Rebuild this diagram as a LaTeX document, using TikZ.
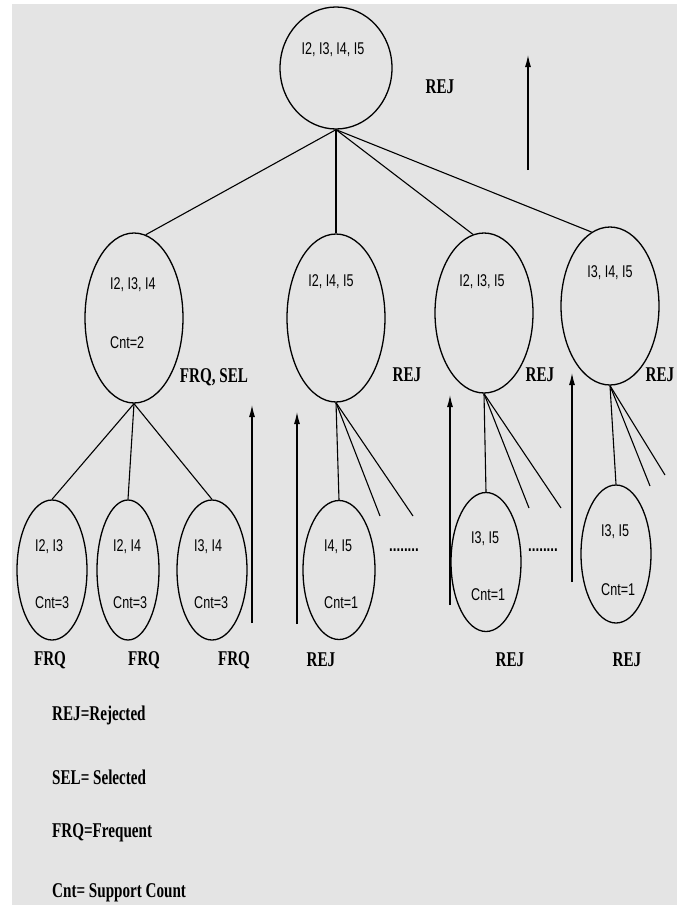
\documentclass[tikz,border=0pt]{standalone}
\usepackage{fontspec}
\usetikzlibrary{shapes.geometric,arrows.meta}
\newfontfamily\itemsfont{Liberation Sans}[FakeStretch=0.74]
\newfontfamily\marksfont{Liberation Serif}[FakeStretch=0.72]
\definecolor{sheet}{RGB}{228,228,228}
\tikzset{
  itemset/.style={draw, ellipse, line width=1.3pt, inner sep=0pt},
  itemtext/.style={font=\itemsfont\fontsize{17}{19}\selectfont, inner sep=0pt},
  marktext/.style={font=\marksfont\bfseries\fontsize{21}{23}\selectfont, inner sep=0pt},
  link/.style={line width=1.1pt},
  upflow/.style={line width=1.1pt, -{Latex[length=12pt,width=6pt]}}
}

\begin{document}
\begin{tikzpicture}[x=1pt,y=-1pt]
			%%%%% START %%%%%
			\useasboundingbox (0,0) rectangle (685,905);
			\fill[sheet] (12,4) rectangle (677,905);
			
			% candidate sets
			\node[itemset, minimum width=112pt, minimum height=122pt] (top) at (336,68) {};
			
			\node[itemset, minimum width=98pt, minimum height=170pt] (n1) at (134,318) {};
			\node[itemset, minimum width=98pt, minimum height=168pt] (n2) at (336,318) {};
			\node[itemset, minimum width=98pt, minimum height=160pt] (n3) at (484,313) {};
			\node[itemset, minimum width=98pt, minimum height=158pt] (n4) at (610,306) {};
			
			\node[itemset, minimum width=70pt, minimum height=140pt] (a) at (52,570) {};
			\node[itemset, minimum width=62pt, minimum height=140pt] (b) at (128,570) {};
			\node[itemset, minimum width=70pt, minimum height=140pt] (c) at (212,570) {};
			\node[itemset, minimum width=72pt, minimum height=139pt] (d) at (339,570) {};
			\node[itemset, minimum width=70pt, minimum height=139pt] (e) at (486,562) {};
			\node[itemset, minimum width=70pt, minimum height=138pt] (f) at (616,554) {};
			
			% items and counts
			\node[itemtext] (tTop) at (333,50) {I2, I3, I4, I5};
			\node[itemtext, anchor=west] (t1) at (110,285) {I2, I3, I4};
			\node[itemtext, anchor=west] (c1) at (110,343) {Cnt=2};
			\node[itemtext] (t2) at (331,282) {I2, I4, I5};
			\node[itemtext] (t3) at (482,282) {I2, I3, I5};
			\node[itemtext] (t4) at (610,273) {I3, I4, I5};
			
			\node[itemtext, anchor=west] (ta) at (35,547) {I2, I3};
			\node[itemtext, anchor=west] (ca) at (35,603) {Cnt=3};
			\node[itemtext, anchor=west] (tb) at (113,547) {I2, I4};
			\node[itemtext, anchor=west] (cb) at (113,603) {Cnt=3};
			\node[itemtext, anchor=west] (tc) at (194,547) {I3, I4};
			\node[itemtext, anchor=west] (cc) at (194,603) {Cnt=3};
			\node[itemtext, anchor=west] (td) at (324,547) {I4, I5};
			\node[itemtext, anchor=west] (cd) at (324,603) {Cnt=1};
			\node[itemtext, anchor=west] (te) at (471,539) {I3, I5};
			\node[itemtext, anchor=west] (ce) at (471,595) {Cnt=1};
			\node[itemtext, anchor=west] (tf) at (601,532) {I3, I5};
			\node[itemtext, anchor=west] (cf) at (601,590) {Cnt=1};
			
			\node[itemtext, font=\itemsfont\bfseries\fontsize{18}{19}\selectfont] (dots1) at (404,550) {........};
			\node[itemtext, font=\itemsfont\bfseries\fontsize{18}{19}\selectfont] (dots2) at (543,550) {........};
			
			% tree links
			\draw[link] (top.south) -- (n1.82);
			\draw[link] (top.south) -- (n2.north);
			\draw[link] (top.south) -- (n3.98);
			\draw[link] (top.south) -- (n4.104);
			
			\draw[link] (n1.south) -- (a.north);
			\draw[link] (n1.south) -- (b.north);
			\draw[link] (n1.south) -- (c.north);
			\draw[link] (n2.south) -- (d.north);
			\draw[link] (n3.south) -- (e.north);
			\draw[link] (n4.south) -- (f.north);
			
			\coordinate (g2a) at (380,516);
			\coordinate (g2b) at (413,516);
			\coordinate (g3a) at (529,508);
			\coordinate (g3b) at (561,508);
			\coordinate (g4a) at (650,486);
			\coordinate (g4b) at (665,475);
			\draw[link] (n2.south) -- (g2a);
			\draw[link] (n2.south) -- (g2b);
			\draw[link] (n3.south) -- (g3a);
			\draw[link] (n3.south) -- (g3b);
			\draw[link] (n4.south) -- (g4a);
			\draw[link] (n4.south) -- (g4b);
			
			% upward passes
			\coordinate (p0) at (528,170);
			\coordinate (q0) at (528,55);
			\coordinate (p1) at (252,623);
			\coordinate (q1) at (252,405);
			\coordinate (p2) at (297,624);
			\coordinate (q2) at (297,412);
			\coordinate (p3) at (450,605);
			\coordinate (q3) at (450,395);
			\coordinate (p4) at (572,582);
			\coordinate (q4) at (572,373);
			\draw[upflow] (p0) -- (q0);
			\draw[upflow] (p1) -- (q1);
			\draw[upflow] (p2) -- (q2);
			\draw[upflow] (p3) -- (q3);
			\draw[upflow] (p4) -- (q4);
			
			% status marks
			\node[marktext] (mTop) at (440,87) {REJ};
			\node[marktext] (m1) at (214,377) {FRQ, SEL};
			\node[marktext] (m2) at (407,375) {REJ};
			\node[marktext] (m3) at (540,375) {REJ};
			\node[marktext] (m4) at (660,375) {REJ};
			
			\node[marktext] (ma) at (50,660) {FRQ};
			\node[marktext] (mb) at (144,660) {FRQ};
			\node[marktext] (mc) at (234,660) {FRQ};
			\node[marktext] (md) at (321,660) {REJ};
			\node[marktext] (me) at (510,660) {REJ};
			\node[marktext] (mf) at (627,660) {REJ};
			
			% legend
			\node[marktext, anchor=west] (k1) at (52,715) {REJ=Rejected};
			\node[marktext, anchor=west] (k2) at (52,777) {SEL= Selected};
			\node[marktext, anchor=west] (k3) at (52,833) {FRQ=Frequent};
			\node[marktext, anchor=west] (k4) at (52,893) {Cnt= Support Count};
			%%%%% END %%%%%
\end{tikzpicture}
\end{document}
